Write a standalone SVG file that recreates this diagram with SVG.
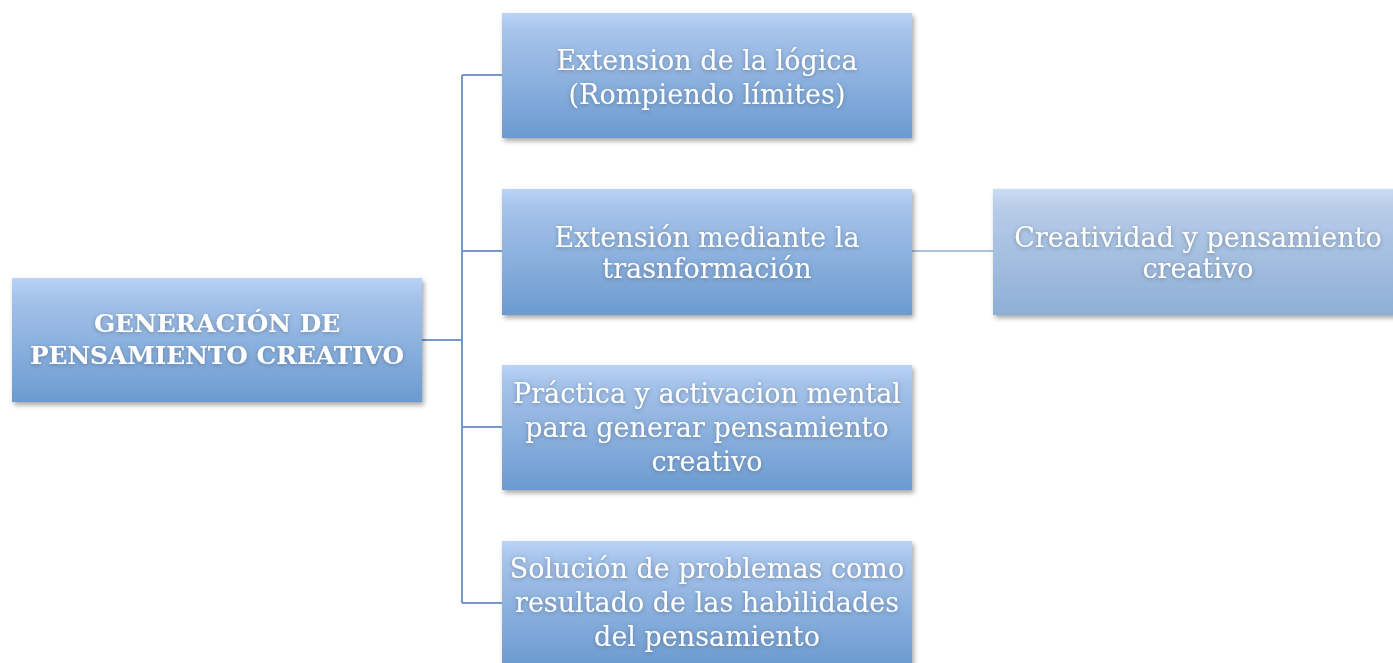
<svg xmlns="http://www.w3.org/2000/svg" width="1393" height="663" viewBox="0 0 1393 663">
<defs>
<linearGradient id="g" x1="0" y1="0" x2="0" y2="1">
<stop offset="0" stop-color="#b9d3f6"/>
<stop offset="0.15" stop-color="#a6c3ea"/>
<stop offset="1" stop-color="#6c9bd0"/>
</linearGradient>
<linearGradient id="g2" x1="0" y1="0" x2="0" y2="1">
<stop offset="0" stop-color="#cadcf5"/>
<stop offset="0.15" stop-color="#b8cce8"/>
<stop offset="1" stop-color="#8dafd6"/>
</linearGradient>
<filter id="sh" x="-5%" y="-10%" width="115%" height="130%">
<feDropShadow dx="2" dy="3" stdDeviation="2.5" flood-color="#000" flood-opacity="0.35"/>
</filter>
<filter id="ts" x="-10%" y="-30%" width="120%" height="160%">
<feDropShadow dx="0" dy="1" stdDeviation="2" flood-color="#4a5a70" flood-opacity="0.6"/>
</filter>
</defs>
<style>
.box{fill:url(#g);filter:url(#sh)}
.box2{fill:url(#g2);filter:url(#sh)}
.t{font-family:"DejaVu Serif","Liberation Serif",serif;font-size:27px;fill:#fff;text-anchor:middle;filter:url(#ts)}
.tb{font-family:"DejaVu Serif","Liberation Serif",serif;font-size:24.8px;font-weight:bold;fill:#fff;text-anchor:middle;filter:url(#ts)}
.c{fill:none;stroke:#7598cb;stroke-width:2}
.c2{fill:none;stroke:#a9c1e0;stroke-width:2}
</style>
<rect width="1393" height="663" fill="#fff"/>
<g id="connectors">
<path class="c" d="M422 340H462M462 75V603M462 75H502M462 251H502M462 427H502M462 603H502"/>
<path class="c2" d="M912 251H993"/>
</g>
<g id="root">
<rect class="box" x="12" y="278" width="410" height="124"/>
<text class="tb" x="217" y="332">GENERACIÓN DE</text>
<text class="tb" x="217" y="364">PENSAMIENTO CREATIVO</text>
</g>
<g id="n1">
<rect class="box" x="502" y="13" width="410" height="125"/>
<text class="t" x="707" y="70">Extension de la lógica</text>
<text class="t" x="707" y="104">(Rompiendo límites)</text>
</g>
<g id="n2">
<rect class="box" x="502" y="189" width="410" height="126"/>
<text class="t" x="707" y="247">Extensión mediante la</text>
<text class="t" x="707" y="278">trasnformación</text>
</g>
<g id="n3">
<rect class="box" x="502" y="365" width="410" height="125"/>
<text class="t" x="707" y="403">Práctica y activacion mental</text>
<text class="t" x="707" y="437">para generar pensamiento</text>
<text class="t" x="707" y="471">creativo</text>
</g>
<g id="n4">
<rect class="box" x="502" y="541" width="410" height="125"/>
<text class="t" x="707" y="578">Solución de problemas como</text>
<text class="t" x="707" y="612">resultado de las habilidades</text>
<text class="t" x="707" y="646">del pensamiento</text>
</g>
<g id="n5">
<rect class="box2" x="993" y="189" width="410" height="126"/>
<text class="t" x="1198" y="247">Creatividad y pensamiento</text>
<text class="t" x="1198" y="278">creativo</text>
</g>
</svg>
